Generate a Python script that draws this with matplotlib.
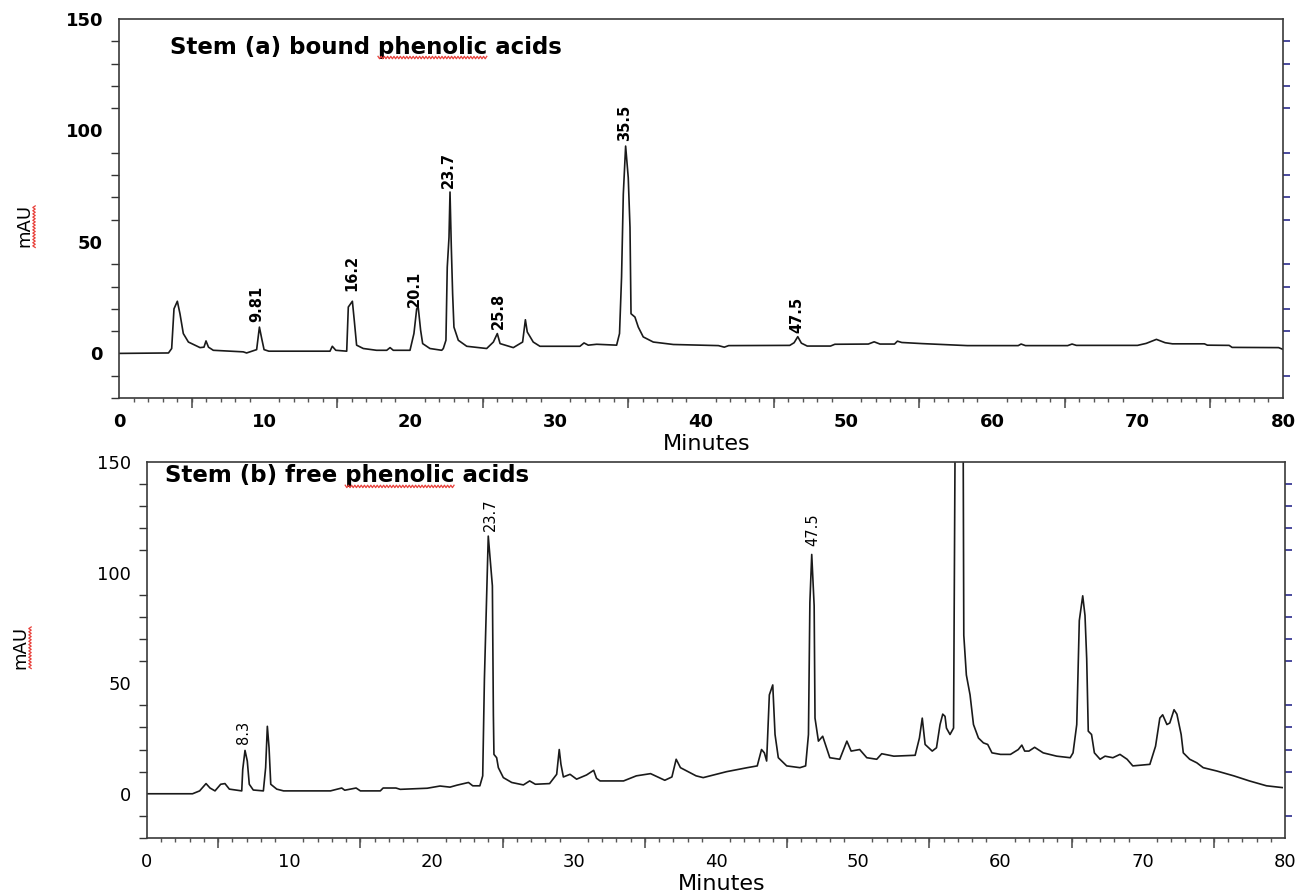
import matplotlib
matplotlib.use("Agg")
import matplotlib.pyplot as plt
from matplotlib.lines import Line2D
from matplotlib.ticker import MultipleLocator
import numpy as np

# Stem (a) bound phenolic acids - chromatogram
time_a = [0, 3.4, 3.62, 3.78, 4.01, 4.19, 4.42, 4.77, 5.57, 5.84, 5.98, 6.15, 6.48,
          8.54, 8.77, 9.46, 9.65, 9.81, 9.97, 10.3, 14.5, 14.66, 14.9, 15.65, 15.76,
          16.04, 16.17, 16.33, 16.79, 17.7, 18.4, 18.63, 18.85, 20.0, 20.27, 20.46,
          20.57, 20.73, 20.87, 21.37, 22.18, 22.29, 22.47, 22.56, 22.68, 22.75, 22.84,
          22.93, 23.02, 23.32, 23.9, 25.27, 25.73, 26.0, 26.19, 27.1, 27.74, 27.93,
          28.06, 28.47, 28.93, 31.68, 31.96, 32.25, 32.83, 34.2, 34.4, 34.54, 34.66,
          34.82, 35.0, 35.12, 35.19, 35.46, 35.69, 36.03, 36.72, 38.1, 41.2, 41.6,
          41.9, 46.1, 46.4, 46.65, 46.9, 47.3, 48.9, 49.2, 51.5, 51.9, 52.3, 53.3,
          53.5, 53.8, 55.2, 58.3, 61.8, 62.0, 62.3, 65.2, 65.5, 65.8, 70.0, 70.6,
          71.3, 71.9, 72.4, 74.6, 74.8, 76.3, 76.5, 79.7, 80.0]
mau_a = [0, 0.2, 2.2, 20, 23.4, 17.8, 8.9, 5.1, 2.6, 2.8, 5.6, 2.8, 1.4,
         0.7, 0.2, 1.7, 11.8, 6.6, 1.7, 1.0, 1.0, 3.2, 1.4, 1.0, 20.8,
         23.4, 14.8, 3.7, 2.2, 1.4, 1.4, 2.6, 1.4, 1.4, 8.9, 20,
         20.4, 10.4, 4.4, 2.2, 1.4, 2.2, 5.9, 38.6, 52, 72.4, 47.5,
         26.7, 11.8, 5.9, 3.2, 2.2, 5.1, 8.9, 4.4, 2.6, 5.1, 15.1,
         9.6, 5.1, 3.2, 3.2, 4.7, 3.7, 4.1, 3.7, 8.9, 34.2, 71.4,
         93, 78.8, 56.5, 17.8, 16.3, 11.8, 7.4, 5.1, 4.0, 3.5, 2.8,
         3.5, 3.6, 4.8, 7.5, 4.6, 3.3, 3.3, 4.1, 4.2, 5.2, 4.2, 4.2,
         5.5, 4.9, 4.4, 3.5, 3.5, 4.2, 3.5, 3.5, 4.2, 3.6, 3.6, 4.5,
         6.3, 4.8, 4.3, 4.3, 3.7, 3.6, 2.7, 2.6, 1.8]
labels_a = ["9.81", "16.2", "20.1", "23.7", "25.8", "35.5", "47.5"]
label_t_a = [9.5, 16.0, 20.3, 22.65, 26.05, 34.78, 46.6]
label_y_a = [13.9, 28.0, 20.8, 74.3, 10.8, 95.2, 9.3]

# Stem (b) free phenolic acids
time_b = [0, 3.2, 3.7, 4.15, 4.43, 4.78, 5.18, 5.48, 5.79, 6.66, 6.73, 6.89, 7.05,
          7.19, 7.47, 8.18, 8.34, 8.46, 8.58, 8.7, 9.12, 9.6, 12.9, 13.69, 13.9,
          14.7, 15.0, 16.4, 16.6, 17.5, 17.8, 19.7, 20.6, 21.3, 21.8, 22.6, 22.9,
          23.4, 23.6, 23.72, 23.99, 24.28, 24.35, 24.39, 24.58, 24.7, 25.05, 25.64,
          26.46, 26.9, 27.3, 28.3, 28.8, 28.98, 29.1, 29.27, 29.74, 30.2, 30.9,
          31.4, 31.6, 31.85, 33.5, 34.4, 35.4, 36.4, 36.9, 37.2, 37.5, 38.6, 39.1,
          40.75, 42.2, 42.9, 43.2, 43.4, 43.56, 43.75, 43.99, 44.15, 44.38, 44.97,
          45.9, 46.3, 46.5, 46.6, 46.73, 46.9, 46.96, 47.2, 47.5, 48.0, 48.7, 49.2,
          49.5, 50.1, 50.6, 51.3, 51.65, 52.5, 54.0, 54.3, 54.5, 54.7, 55.2, 55.5,
          55.75, 55.94, 56.1, 56.2, 56.45, 56.7, 56.85, 57.35, 57.42, 57.6, 57.86,
          58.1, 58.45, 58.8, 59.1, 59.4, 60.0, 60.7, 61.25, 61.5, 61.7, 62.0, 62.4,
          63.0, 63.95, 64.9, 65.1, 65.36, 65.54, 65.78, 65.94, 66.06, 66.17, 66.4,
          66.6, 67.0, 67.35, 67.9, 68.4, 68.9, 69.3, 70.5, 70.9, 71.2, 71.4, 71.7,
          71.9, 72.2, 72.4, 72.7, 72.85, 73.3, 73.8, 74.25, 75.2, 76.4, 77.5, 78.7,
          79.8]
mau_b = [0, 0, 1.3, 4.6, 2.6, 1.3, 4.3, 4.6, 2.1, 1.3, 11, 19.6, 14.8,
         4.3, 1.7, 1.3, 11.8, 30.5, 20.8, 4.3, 2.1, 1.3, 1.3, 2.6, 1.6,
         2.6, 1.3, 1.3, 2.6, 2.6, 2.0, 2.5, 3.5, 3.0, 3.9, 5.1, 3.6,
         3.6, 8.1, 52, 116.5, 94, 35.7, 17.8, 16.3, 11.8, 7.3, 5.1,
         4.0, 5.8, 4.3, 4.6, 8.8, 20, 13.3, 7.6, 8.8, 6.6, 8.5,
         10.6, 7.0, 5.8, 5.8, 8.1, 9.1, 6.1, 7.6, 15.6, 11.8, 8.1, 7.3,
         10, 11.8, 12.6, 20, 18.5, 14.8, 44.7, 49.2, 26.8, 16.3, 12.6,
         11.8, 12.6, 26.8, 86.5, 108.2, 85, 34.2, 23.8, 26, 16.3, 15.6, 23.8,
         19.3, 20, 16.3, 15.6, 18.1, 17, 17.4, 25.2, 34.2, 22.3, 19.3, 20.8,
         31.3, 36, 35, 29.7, 26.8, 29.7, 210, 210, 71.6, 53.7, 44.7,
         31.3, 25.2, 23, 22.3, 18.5, 17.8, 17.8, 20, 22, 19.3, 19.3, 21,
         18.5, 17, 16.3, 18.5, 31.3, 78.3, 89.5, 80.6, 61, 28.3, 26.8,
         18.5, 15.6, 17, 16.3, 17.8, 15.6, 12.6, 13.3, 21.5, 34.2, 35.7, 31.3,
         32, 38, 36, 26.8, 18.5, 15.6, 14, 11.8, 10.3, 8.1, 5.8, 3.6,
         2.8]
labels_b = ["8.3", "23.7", "47.5"]
label_t_b = [6.77, 24.11, 46.84]
label_y_b = [22.3, 118.7, 112.0]

x_ticks = list(range(0, 81, 10))
y_ticks = [0, 50, 100, 150]

SQUIGGLE = '#e8403a'


def style_axes(ax, weight, ylab_x, ylab_y):
    ax.set_xlim(0, 80)
    ax.set_ylim(-20, 150)
    for s in ax.spines.values():
        s.set_color('#3a3a3a')
        s.set_linewidth(1.2)
    ax.set_xticks(x_ticks, labels=[str(v) for v in x_ticks], fontweight=weight)
    ax.set_yticks(y_ticks, labels=[str(v) for v in y_ticks], fontweight=weight)
    ax.xaxis.set_minor_locator(MultipleLocator(1))
    ax.yaxis.set_minor_locator(MultipleLocator(10))
    ax.tick_params(which='major', length=0, labelsize=13, colors='black')
    ax.tick_params(axis='x', which='major', pad=10.5)
    ax.tick_params(axis='y', which='major', pad=11.5)
    ax.tick_params(axis='x', which='minor', length=3, width=1, color='#555555', direction='out')
    ax.tick_params(axis='y', which='minor', length=6, width=1, color='#333333', direction='out')

    # longer ticks every 5 minutes
    sec_x = ax.secondary_xaxis('bottom')
    sec_x.set_xticks(list(range(5, 80, 10)))
    sec_x.tick_params(length=7, width=1.2, color='#555555', labelbottom=False)
    sec_x.spines['bottom'].set_visible(False)

    # navy ticks on the right side
    sec_y = ax.secondary_yaxis('right')
    sec_y.set_yticks([v for v in range(-10, 150, 10) if v % 50])
    sec_y.tick_params(length=5, width=1.2, color='#2b2b8c', labelright=False)
    sec_y.spines['right'].set_visible(False)

    ax.text(0.505, -46 / 379, 'Minutes', transform=ax.transAxes,
            ha='center', va='center', fontsize=16)
    return ax.text(ylab_x, ylab_y, 'mAU', transform=ax.transAxes, rotation=90,
                   ha='center', va='center', fontsize=13)


def _zigzag(fig, xs, ys):
    pts = fig.transFigure.inverted().transform(np.column_stack([xs, ys]))
    fig.add_artist(Line2D(pts[:, 0], pts[:, 1], color=SQUIGGLE, linewidth=0.9,
                          transform=fig.transFigure))


def squiggle_word(fig, txt, word):
    # spell-check style wavy underline below one word of a text
    r = fig.canvas.get_renderer()
    bb = txt.get_window_extent(r)
    s = txt.get_text()
    i = s.index(word)

    def width(part):
        tmp = fig.text(0, 0, part, fontproperties=txt.get_fontproperties())
        w = tmp.get_window_extent(r).width
        tmp.remove()
        return w

    x1 = bb.x0 + width(s[:i + len(word)])
    x0 = x1 - width(word)
    xs = np.arange(x0, x1, 1.6)
    ys = bb.y0 + 1 + np.where(np.arange(len(xs)) % 2 == 0, 1.2, -1.2)
    _zigzag(fig, xs, ys)


def squiggle_vertical(fig, txt):
    r = fig.canvas.get_renderer()
    bb = txt.get_window_extent(r)
    ys = np.arange(bb.y0, bb.y1, 1.6)
    xs = bb.x1 + 1 + np.where(np.arange(len(ys)) % 2 == 0, 1.2, -1.2)
    _zigzag(fig, xs, ys)


fig = plt.figure(figsize=(13.04, 8.96), dpi=100)
ax_a = fig.add_axes([119 / 1304, 1 - 398 / 896, 1164 / 1304, 379 / 896])
ax_b = fig.add_axes([147 / 1304, 1 - 838 / 896, 1138 / 1304, 376 / 896])

# panel (a)
ax_a.plot(time_a, mau_a, color='#1a1a1a', linewidth=1.2)
for lab, t, y in zip(labels_a, label_t_a, label_y_a):
    ax_a.text(t, y, lab, rotation=90, ha='center', va='bottom',
              fontsize=10.5, fontweight='bold')
title_a = ax_a.text(0.0438, 0.926, 'Stem (a) bound phenolic acids', transform=ax_a.transAxes,
                    ha='left', va='center', fontsize=16.5, fontweight='bold')
mau_lab_a = style_axes(ax_a, 'bold', -0.0816, 0.454)

# panel (b)
ax_b.plot(time_b, mau_b, color='#1a1a1a', linewidth=1.2)
for lab, t, y in zip(labels_b, label_t_b, label_y_b):
    ax_b.text(t, y, lab, rotation=90, ha='center', va='bottom', fontsize=10.5)
title_b = ax_b.text(0.0158, 0.963, 'Stem (b) free phenolic acids', transform=ax_b.transAxes,
                    ha='left', va='center', fontsize=16.5, fontweight='bold')
mau_lab_b = style_axes(ax_b, 'normal', -0.1116, 0.508)

fig.canvas.draw()
squiggle_word(fig, title_a, 'phenolic')
squiggle_word(fig, title_b, 'phenolic')
squiggle_vertical(fig, mau_lab_a)
squiggle_vertical(fig, mau_lab_b)

fig.savefig('out.png', dpi=100)
